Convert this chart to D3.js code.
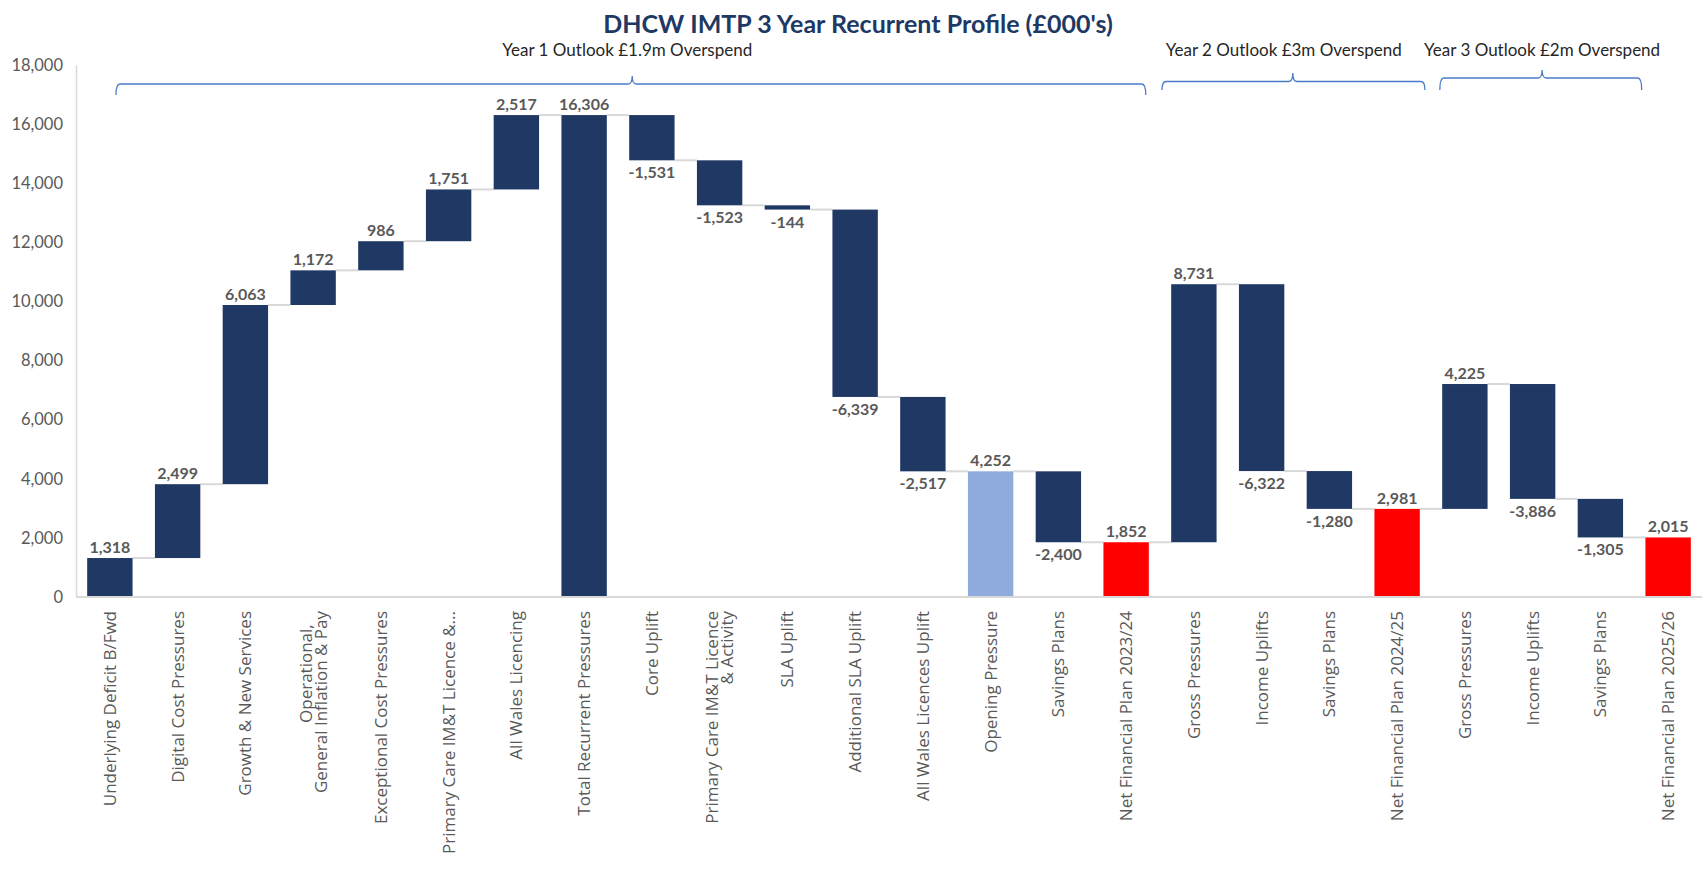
<!DOCTYPE html>
<html>
<head>
<meta charset="utf-8">
<script src="https://cdn.jsdelivr.net/npm/d3@7"></script>
<style>
html, body {
  margin: 0px;
  padding: 0px;
  background: #ffffff;
}
svg text {
  white-space: pre;
}
.narrow {
  font-family: Lato, "Liberation Sans", sans-serif;
}
</style>
</head>
<body>
<div id="chart"></div>
<script>
  // chart data (£000's)
  var categories = [
    "Underlying Deficit B/Fwd",
    "Digital Cost Pressures",
    "Growth & New Services",
    "Operational,   \nGeneral Inflation & Pay",
    "Exceptional Cost Pressures",
    "Primary Care IM&T Licence &...",
    "All Wales Licencing",
    "Total Recurrent Pressures",
    "Core Uplift",
    "Primary Care IM&T Licence\n& Activity",
    "SLA Uplift",
    "Additional SLA Uplift",
    "All Wales Licences Uplift",
    "Opening Pressure",
    "Savings Plans",
    "Net Financial Plan 2023/24",
    "Gross Pressures",
    "Income Uplifts",
    "Savings Plans",
    "Net Financial Plan 2024/25",
    "Gross Pressures",
    "Income Uplifts",
    "Savings Plans",
    "Net Financial Plan 2025/26"
  ];
  var values = [1318, 2499, 6063, 1172, 986, 1751, 2517, 16306,
                -1531, -1523, -144, -6339, -2517, 4252, -2400, 1852,
                8731, -6322, -1280, 2981, 4225, -3886, -1305, 2015];
  // "delta" bars float on the running total, the others start at zero
  var kinds = ["delta", "delta", "delta", "delta", "delta", "delta", "delta", "total",
               "delta", "delta", "delta", "delta", "delta", "opening", "delta", "net",
               "delta", "delta", "delta", "net", "delta", "delta", "delta", "net"];
  var yTicks = [0, 2000, 4000, 6000, 8000, 10000, 12000, 14000, 16000, 18000];
  var title = "DHCW IMTP 3 Year Recurrent Profile (£000's)";
  var outlookTexts = ["Year 1 Outlook £1.9m Overspend",
                      "Year 2 Outlook £3m Overspend",
                      "Year 3 Outlook £2m Overspend"];

  var W = 1703, H = 872;
  var colors = {delta: "#203864", total: "#203864", opening: "#8FAADC", net: "#FF0000"};
  // excel style: plain hyphen for negatives
  var fmt = function (v) { return d3.format(",")(v).replace("\u2212", "-") };

  var svg = d3.select("#chart").append("svg")
    .attr("width", W)
    .attr("height", H);

  var x = d3.scaleBand()
    .domain(d3.range(categories.length))
    .range([76, 1702])
    .paddingInner(0.33)
    .paddingOuter(0.165);

  var y = d3.scaleLinear()
    .domain([0, 18000])
    .range([597, 65]);

  // work out where each bar starts and ends
  var running = 0;
  var bars = values.map(function (v, i) {
    var b = {i: i, value: v, kind: kinds[i]};
    if (kinds[i] == "delta") {
      b.from = running;
      b.to = running + v;
    } else {
      b.from = 0;
      b.to = v;
    }
    running = b.to;
    b.level = running;
    return b;
  });

  // y axis
  var yAxis = svg.append("g")
    .attr("transform", "translate(76,0)")
    .call(d3.axisLeft(y).tickValues(yTicks).tickSize(0).tickPadding(13).tickFormat(fmt));
  yAxis.select(".domain").attr("stroke", "#D9D9D9").attr("stroke-width", 1.5);
  yAxis.selectAll("text")
    .attr("class", "narrow")
    .attr("font-size", 16.5)
    .attr("fill", "#595959");

  // connectors between bars
  svg.append("g").selectAll("line")
    .data(bars.slice(0, -1))
    .enter()
    .append("line")
    .attr("x1", function (d) { return x(d.i) + x.bandwidth() })
    .attr("x2", function (d) { return x(d.i + 1) })
    .attr("y1", function (d) { return y(d.level) })
    .attr("y2", function (d) { return y(d.level) })
    .attr("stroke", "#D9D9D9")
    .attr("stroke-width", 2);

  svg.append("g").selectAll("rect")
    .data(bars)
    .enter()
    .append("rect")
    .attr("x", function (d) { return x(d.i) })
    .attr("width", x.bandwidth())
    .attr("y", function (d) { return y(Math.max(d.from, d.to)) })
    .attr("height", function (d) { return Math.abs(y(d.from) - y(d.to)) })
    .attr("fill", function (d) { return colors[d.kind] });

  // x axis line
  svg.append("line")
    .attr("x1", 76).attr("x2", 1702)
    .attr("y1", y(0)).attr("y2", y(0))
    .attr("stroke", "#D9D9D9")
    .attr("stroke-width", 2);

  // value labels: above for rises and totals, below for falls
  svg.append("g").selectAll("text")
    .data(bars)
    .enter()
    .append("text")
    .attr("class", "narrow")
    .attr("x", function (d) { return x(d.i) + x.bandwidth() / 2 })
    .attr("y", function (d) {
      return d.value < 0 ? y(Math.min(d.from, d.to)) + 18 : y(Math.max(d.from, d.to)) - 5;
    })
    .attr("text-anchor", "middle")
    .attr("font-size", 16)
    .attr("font-weight", "bold")
    .attr("fill", "#595959")
    .text(function (d) { return fmt(d.value) });

  // category labels, turned on their side
  var catLabels = svg.append("g").selectAll("text")
    .data(categories)
    .enter()
    .append("text")
    .attr("transform", function (d, i) {
      return "translate(" + (x(i) + x.bandwidth() / 2) + ",611) rotate(-90)";
    })
    .attr("text-anchor", "end")
    .attr("font-family", "Open Sans, DejaVu Sans, sans-serif")
    .attr("font-size", 17)
    .attr("fill", "#595959");
  catLabels.each(function (d) {
    var lines = d.split("\n");
    var t = d3.select(this);
    lines.forEach(function (line, k) {
      t.append("tspan")
        .attr("x", 0)
        .attr("y", (k - (lines.length - 1) / 2) * 15)
        .attr("dy", "0.35em")
        .text(line);
    });
  });

  svg.append("text")
    .attr("class", "narrow")
    .attr("x", 858)
    .attr("y", 33)
    .attr("text-anchor", "middle")
    .attr("font-size", 25)
    .attr("font-weight", "bold")
    .attr("fill", "#203864")
    .text(title);

  // curly brackets over each year: fractional category positions
  var braces = [
    {start: 0.59, mid: 8.21, end: 15.79, line: 84, tip: 95, cusp: 76},
    {start: 16.03, mid: 17.96, end: 19.91, line: 81.5, tip: 90, cusp: 73},
    {start: 20.13, mid: 21.64, end: 23.11, line: 78, tip: 90, cusp: 70}
  ];
  var step = x.step();
  function px(p) { return 76 + p * step }

  svg.append("g").selectAll("path")
    .data(braces)
    .enter()
    .append("path")
    .attr("fill", "none")
    .attr("stroke", "#4A7BC8")
    .attr("stroke-width", 1.3)
    .attr("d", function (b) {
      var x0 = px(b.start), xm = px(b.mid), x1 = px(b.end), r = 4;
      return "M" + x0 + "," + b.tip +
        " Q" + x0 + "," + b.line + " " + (x0 + r) + "," + b.line +
        " L" + (xm - r) + "," + b.line +
        " Q" + xm + "," + b.line + " " + xm + "," + b.cusp +
        " Q" + xm + "," + b.line + " " + (xm + r) + "," + b.line +
        " L" + (x1 - r) + "," + b.line +
        " Q" + x1 + "," + b.line + " " + x1 + "," + b.tip;
    });

  svg.append("g").selectAll("text")
    .data(outlookTexts)
    .enter()
    .append("text")
    .attr("class", "narrow")
    .attr("x", function (d, i) { return px(braces[i].mid) - (i == 0 ? 5 : i == 1 ? 9 : 0) })
    .attr("y", 56)
    .attr("text-anchor", "middle")
    .attr("font-size", 17)
    .attr("fill", "#262626")
    .text(function (d) { return d });
</script>
</body>
</html>
